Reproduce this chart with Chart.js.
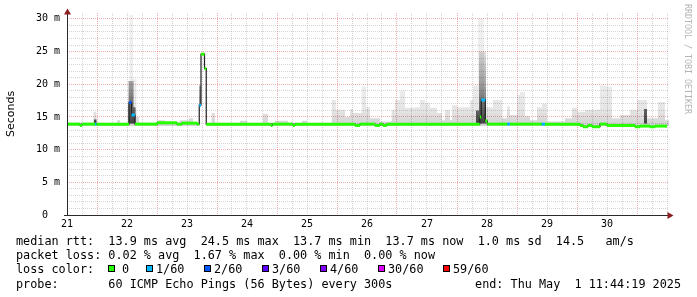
<!DOCTYPE html>
<html>
<head>
<meta charset="utf-8">
<script src="https://cdn.jsdelivr.net/npm/chart.js@4.4.1/dist/chart.umd.min.js"></script>
<style>
  body { margin: 0; background: #fff; }
  #wrap { position: relative; width: 697px; height: 297px; overflow: hidden; background: #fff; }
  canvas { position: absolute; left: 0; top: 0; }
  .txt { position: absolute; font-family: 'DejaVu Sans Mono', monospace; font-size: 11.8px; line-height: 14px; white-space: pre; color: #000; }
  .box { position: absolute; width: 7px; height: 7px; border: 1px solid #000; box-sizing: border-box; top: 265px; }
  #mark { position: absolute; left: 683px; top: 4px; writing-mode: vertical-rl; font-family: 'DejaVu Sans Mono', monospace; font-size: 8.3px; line-height: 10px; color: #b4b4b4; white-space: pre; }
</style>
</head>
<body>
<div id="wrap">
  <canvas id="smokeChart" width="697" height="297"></canvas>
  <div id="mark">RRDTOOL / TOBI OETIKER</div>
  <div id="legend"></div>
</div>
<script>
// time axis: hours since the "21" label, one label per day
const dayLabels = ['21', '22', '23', '24', '25', '26', '27', '28', '29', '30'];

// median rtt (ms), step changes; loss = index into lossColors
const medT    = [0,    5.2,  6,    11.2, 11.8, 24.8, 25.8, 27.2, 36,   44,   46,    52,   52.9, 53.6, 55,   55.7, 81.6, 82.2, 90.4, 91.2, 115.2, 117.2, 123.2, 125.2, 126.4, 128,  165.1, 165.7, 167.3, 168.1, 176.1, 177.2, 189.9, 191.2, 205.2, 206.4, 208.4, 210,  213.2, 216,  227.2, 229.2, 233.2, 235.2, 240];
const medV    = [13.9, 13.7, 13.9, 13.9, 13.9, 17.2, 15.3, 13.9, 14.1, 13.9, 14.05, 13.9, 16.8, 24.6, 22.4, 13.9, 13.7, 13.9, 13.7, 13.9, 13.7,  13.9,  13.7,  13.9,  13.7,  13.9, 15.0,  17.6,  14.4,  13.9,  13.9,  13.9,  13.9,  13.9,  13.7,  13.5,  13.7,  13.5, 13.9,  13.7, 13.5,  13.6,  13.5,  13.6,  13.6];
const medLoss = [0,    0,    0,    1,    0,    2,    1,    0,    0,    0,    0,     0,    1,    0,    0,    0,    0,    0,    0,    0,    0,     0,     0,     0,     0,     0,    0,     1,     0,     0,     1,     0,     1,     0,     0,     0,     0,     0,    0,     0,    0,     0,     0,     0,     0];

// smoke (spread of the 60 pings), step changes
const smokeT  = [0,    10.6, 11.8, 20,   21.2, 24.4, 25,   26.4, 27.8, 28.8, 36,   39.2, 45,   48.8, 50.4, 52.9, 53.6, 55,   55.7, 57.8, 59.2, 69.2, 72,   78.4, 80.4, 83.2, 88.4, 94,   96,   105.9, 107.5, 111.2, 113.2, 114.4, 117.9, 119.6, 121.2, 125.2, 129.9, 131.2, 133.2, 135.2, 139.2, 141.2, 143.2, 145.2, 148,  150,  151.2, 153.2, 154,  156,  161.2, 162.4, 164.4, 166.8, 170.4, 174,  176,  177.2, 180,  181.2, 183.2, 185.2, 188,  190,  192,  199.2, 202,  204,  207.2, 213.2, 215.6, 218,  221.2, 225.2, 228,  232,  236.4, 239.2, 240.8];
const smokeLo = [13.6, 13.6, 13.6, 13.6, 13.6, 13.6, 13.6, 13.6, 13.6, 13.6, 13.6, 13.6, 13.6, 13.6, 13.6, 16.8, 24.4, 22.2, 13.6, 13.6, 13.6, 13.6, 13.6, 13.6, 13.6, 13.6, 13.6, 13.6, 13.6, 13.6,  13.6,  13.6,  13.6,  13.6,  13.6,  13.6,  13.6,  13.6,  13.6,  13.6,  13.6,  13.6,  13.6,  13.6,  13.6,  13.6,  13.6, 13.6, 13.6,  13.6,  13.6, 13.6, 13.6,  13.6,  13.6,  13.6,  13.6,  13.6, 13.6, 13.6,  13.6, 13.6,  13.6,  13.6,  13.6, 13.6, 13.6, 13.6,  13.6, 13.6, 13.6,  13.6,  13.6,  13.6, 13.6,  13.6,  13.6, 13.6, 13.6,  13.6,  13.6];
const smokeHi = [14.1, 15.8, 14.1, 14.5, 14.1, 17.0, 30.6, 20.8, 15.0, 14.1, 14.5, 14.1, 14.5, 14.8, 14.2, 19.8, 24.8, 22.6, 14.1, 15.6, 14.1, 14.4, 14.1, 15.5, 14.1, 14.4, 14.1, 14.4, 14.1, 17.6,  16.1,  15.0,  16.2,  15.6,  19.6,  16.5,  14.8,  14.3,  16.1,  17.6,  19.0,  16.4,  16.5,  17.6,  17.1,  16.4,  15.6, 14.5, 16.1,  14.5,  16.8, 16.5, 17.6,  19.8,  30.1,  16.5,  17.6,  14.8, 16.6, 15.3,  18.4, 18.8,  15.1,  14.5,  16.5, 17.0, 14.3, 14.8,  16.4, 15.8, 16.1,  19.8,  19.6,  14.8, 15.3,  16.1,  17.6, 14.8, 17.3,  14.5,  14.5];

// dense core of the smoke where it shows dark
const darkT  = [0,    10.8, 11.8, 24.6, 26.6, 27.4, 52.9, 53.6, 163.6, 164.8, 167.6, 230.8, 232,  240.8];
const darkLo = [13.9, 13.9, 13.9, 14.0, 14.0, 13.9, 16.8, 13.9, 14.0,  14.0,  13.9,  14.0,  13.9, 13.9];
const darkHi = [13.9, 14.6, 13.9, 20.5, 16.5, 13.9, 19.8, 13.9, 16.0,  25.0,  13.9,  16.2,  13.9, 13.9];

const lossLabels = ['0', '1/60', '2/60', '3/60', '4/60', '30/60', '59/60'];
const lossColors = ['#26ff00', '#00b8ff', '#0059ff', '#5e00ff', '#7e00ff', '#dd00ff', '#ff0000'];

const statLines = [
  'median rtt:  13.9 ms avg  24.5 ms max  13.7 ms min  13.7 ms now  1.0 ms sd  14.5   am/s',
  'packet loss: 0.02 % avg  1.67 % max  0.00 % min  0.00 % now'
];
const probeText = 'probe:       60 ICMP Echo Pings (56 Bytes) every 300s';
const endText = 'end: Thu May  1 11:44:19 2025';

const pts = (t, v) => t.map((x, i) => ({x: x, y: v[i]}));

// colored median: horizontal pieces only, broken by gaps
const bandPoints = [];
for (let i = 0; i < medT.length - 1; i++) {
  bandPoints.push({x: medT[i], y: medV[i]}, {x: medT[i + 1], y: medV[i]}, {x: medT[i + 1], y: null});
}

function vGradient(context, from, to, stops) {
  const chart = context.chart;
  if (!chart.chartArea) return 'rgba(0,0,0,0.1)';
  const y = chart.scales.y;
  const g = chart.ctx.createLinearGradient(0, y.getPixelForValue(from), 0, y.getPixelForValue(to));
  stops.forEach(s => g.addColorStop(s[0], s[1]));
  return g;
}

const majorGrid = 'rgba(222,79,79,0.45)';
const minorGrid = 'rgba(143,143,143,0.38)';

const axisArrows = {
  id: 'axisArrows',
  afterDatasetsDraw(chart) {
    const {ctx, chartArea: a} = chart;
    const bx = a.left + 0.5, by = a.bottom + 0.5;
    ctx.save();
    ctx.strokeStyle = '#2a2a2a';
    ctx.lineWidth = 1;
    ctx.beginPath();
    ctx.moveTo(a.left - 3, by); ctx.lineTo(a.right - 1, by);
    ctx.moveTo(bx, a.bottom + 1); ctx.lineTo(bx, a.top + 1);
    ctx.stroke();
    ctx.fillStyle = '#8c1f1f';
    ctx.beginPath();
    ctx.moveTo(bx, a.top - 4.5); ctx.lineTo(bx - 3.5, a.top + 1.5); ctx.lineTo(bx + 3.5, a.top + 1.5);
    ctx.closePath(); ctx.fill();
    ctx.beginPath();
    ctx.moveTo(a.right + 4.5, by); ctx.lineTo(a.right - 1.5, by - 3.5); ctx.lineTo(a.right - 1.5, by + 3.5);
    ctx.closePath(); ctx.fill();
    ctx.restore();
  }
};

const ctx = document.getElementById('smokeChart').getContext('2d');
const smokeChart = new Chart(ctx, {
  type: 'line',
  data: {
    datasets: [
      { data: pts(smokeT, smokeLo), stepped: true, borderWidth: 0, borderColor: 'transparent', fill: false, order: 6 },
      { data: pts(smokeT, smokeHi), stepped: true, borderWidth: 0, borderColor: 'transparent', fill: '-1', order: 5,
        backgroundColor: c => vGradient(c, 14, 31, [[0, 'rgba(0,0,0,0.17)'], [0.12, 'rgba(0,0,0,0.1)'], [0.35, 'rgba(0,0,0,0.075)'], [1, 'rgba(0,0,0,0.06)']]) },
      { data: pts(darkT, darkLo), stepped: true, borderWidth: 0, borderColor: 'transparent', fill: false, order: 4 },
      { data: pts(darkT, darkHi), stepped: true, borderWidth: 0, borderColor: 'transparent', fill: '-1', order: 3,
        backgroundColor: c => vGradient(c, 14, 26, [[0, 'rgba(10,10,10,0.72)'], [0.5, 'rgba(0,0,0,0.35)'], [1, 'rgba(0,0,0,0.08)']]) },
      { data: pts(medT, medV), stepped: true, borderWidth: 1.2, borderColor: '#202020', fill: false, order: 2 },
      { data: bandPoints, borderWidth: 3, borderCapStyle: 'butt', fill: false, spanGaps: false, order: 1,
        borderColor: lossColors[0],
        segment: { borderColor: c => lossColors[medLoss[Math.floor(c.p0DataIndex / 3)]] } }
    ]
  },
  options: {
    responsive: false,
    animation: false,
    devicePixelRatio: 1,
    layout: { padding: { left: 0, top: 12, right: 28, bottom: 0 } },
    elements: { point: { radius: 0, hoverRadius: 0 }, line: { tension: 0 } },
    plugins: { legend: { display: false }, tooltip: { enabled: false } },
    scales: {
      x: {
        type: 'linear', min: 0, max: 240.8,
        afterFit: s => { s.height = 82; },
        border: { display: false, dash: [1, 1] },
        grid: { drawTicks: false, color: c => ((c.tick.value - 12) % 24 === 0 ? majorGrid : minorGrid) },
        ticks: {
          stepSize: 6, includeBounds: false, autoSkip: false, maxRotation: 0, minRotation: 0, padding: 3,
          color: '#000', font: { family: 'DejaVu Sans Mono', size: 10 },
          callback: v => (v % 24 === 0 && dayLabels[v / 24] !== undefined ? dayLabels[v / 24] : '')
        }
      },
      y: {
        min: 0, max: 30.9,
        afterFit: s => { s.width = 67; },
        border: { display: false, dash: [1, 1] },
        grid: { drawTicks: false, color: c => (c.tick.value % 5 === 0 ? majorGrid : minorGrid) },
        title: { display: true, text: 'Seconds', color: '#000', font: { family: 'DejaVu Sans', size: 11 }, padding: { top: 4.4, bottom: 0 } },
        ticks: {
          stepSize: 1, includeBounds: false, autoSkip: false, padding: 7,
          color: '#000', font: { family: 'DejaVu Sans Mono', size: 10 },
          callback: v => (v % 5 === 0 ? (v === 0 ? '0  ' : v + ' m') : '')
        }
      }
    }
  },
  plugins: [axisArrows]
});

// text block under the graph
const legend = document.getElementById('legend');
function addText(text, left, top, right) {
  const d = document.createElement('div');
  d.className = 'txt';
  d.textContent = text;
  d.style.top = top + 'px';
  if (right !== undefined) d.style.right = right + 'px'; else d.style.left = left + 'px';
  legend.appendChild(d);
}
addText(statLines[0], 16, 234);
addText(statLines[1], 16, 248);
addText('loss color:', 16, 262);
const boxLeft = [108, 146, 204, 262, 320, 378, 443];
lossLabels.forEach((lab, i) => {
  const b = document.createElement('div');
  b.className = 'box';
  b.style.left = boxLeft[i] + 'px';
  b.style.background = lossColors[i];
  legend.appendChild(b);
  addText(lab, boxLeft[i] + (i === 0 ? 14 : 10), 262);
});
addText(probeText, 16, 277);
addText(endText, 0, 277, 16);
</script>
</body>
</html>
